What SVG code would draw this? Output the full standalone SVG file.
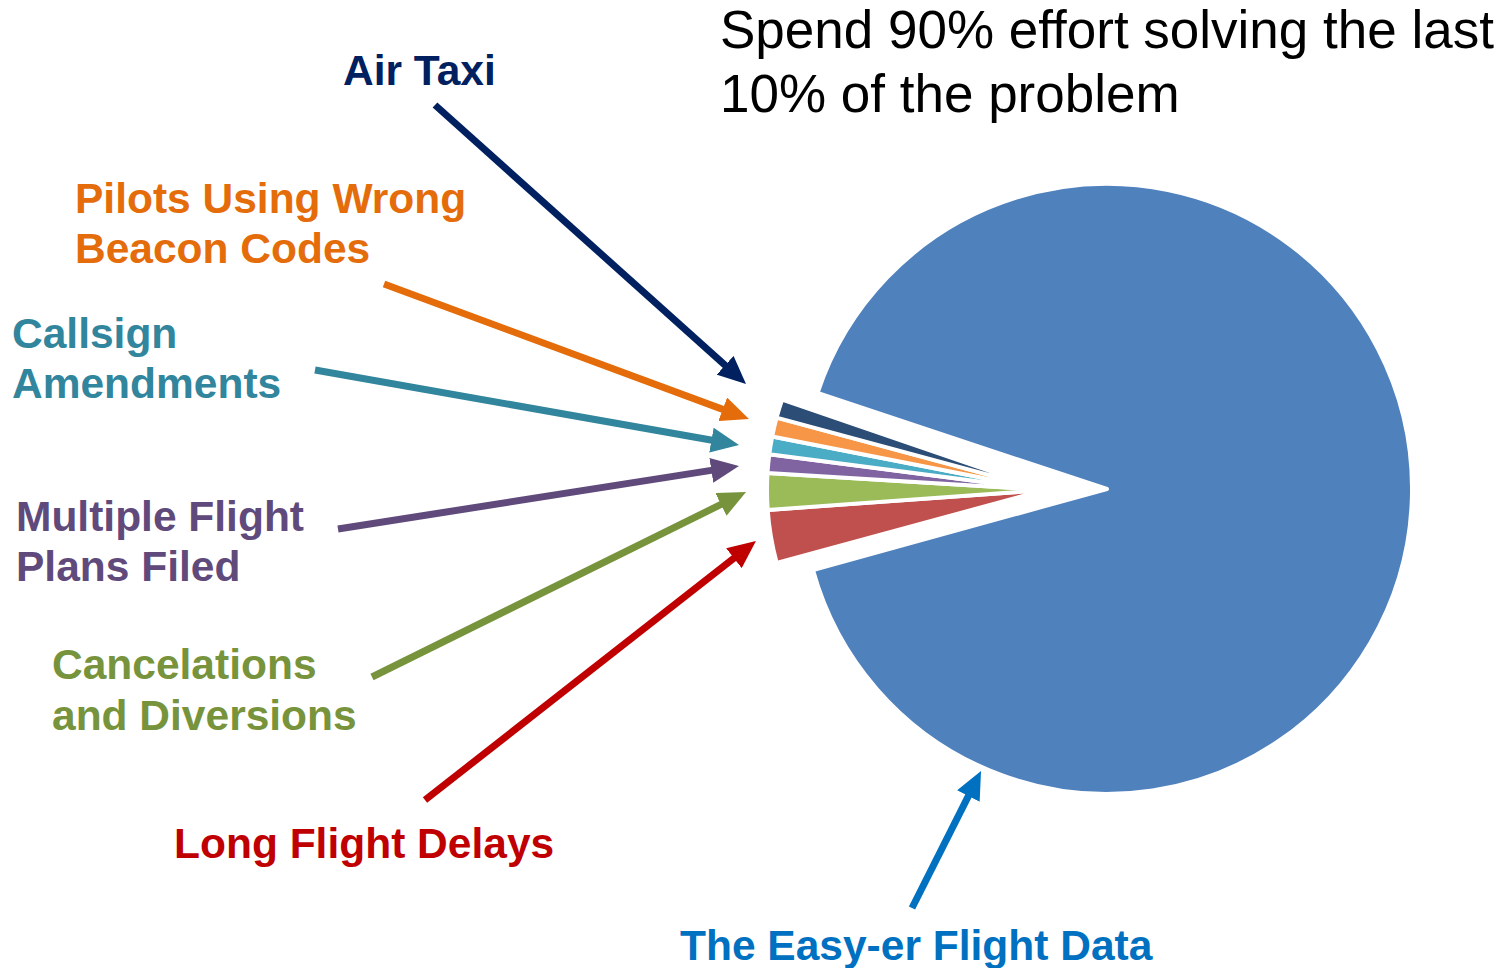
<svg xmlns="http://www.w3.org/2000/svg" width="1508" height="968" viewBox="0 0 1508 968">
  <style>
    .lbl { font-family: "Liberation Sans", Arial, sans-serif; font-weight: bold; font-size: 42.5px; }
    .title { font-family: "Liberation Sans", Arial, sans-serif; font-size: 53px; fill: #000000; }
    .slice { stroke: #ffffff; stroke-width: 4; stroke-linejoin: round; }
    .conn { fill: none; stroke-width: 7; }
  </style>
  <defs>
    <marker id="m-navy" markerWidth="4" markerHeight="3.6" refX="1.14" refY="1.8" orient="auto"><path d="M0,0 L4,1.8 L0,3.6 z" fill="#002060"/></marker>
    <marker id="m-orange" markerWidth="4" markerHeight="3.6" refX="1.14" refY="1.8" orient="auto"><path d="M0,0 L4,1.8 L0,3.6 z" fill="#E46C0A"/></marker>
    <marker id="m-teal" markerWidth="4" markerHeight="3.6" refX="1.14" refY="1.8" orient="auto"><path d="M0,0 L4,1.8 L0,3.6 z" fill="#31859C"/></marker>
    <marker id="m-purple" markerWidth="4" markerHeight="3.6" refX="1.14" refY="1.8" orient="auto"><path d="M0,0 L4,1.8 L0,3.6 z" fill="#604A7B"/></marker>
    <marker id="m-green" markerWidth="4" markerHeight="3.6" refX="1.14" refY="1.8" orient="auto"><path d="M0,0 L4,1.8 L0,3.6 z" fill="#77933C"/></marker>
    <marker id="m-red" markerWidth="4" markerHeight="3.6" refX="1.14" refY="1.8" orient="auto"><path d="M0,0 L4,1.8 L0,3.6 z" fill="#C00000"/></marker>
    <marker id="m-blue" markerWidth="4" markerHeight="3.6" refX="1.14" refY="1.8" orient="auto"><path d="M0,0 L4,1.8 L0,3.6 z" fill="#0070C0"/></marker>
  </defs>
  <rect width="1508" height="968" fill="#ffffff"/>

  <g id="pie">
    <path id="slice-easy" class="slice" fill="#4F81BD" stroke-width="3" d="M1107,489 L817.5,393 A305,305 0 1,1 813,570 Z"/>
    <path id="slice-delays" class="slice" fill="#C0504D" d="M1045,490 L767.7,509.9 A278,278 0 0,0 776.7,562.9 Z"/>
    <path id="slice-cancel" class="slice" fill="#9BBB59" d="M1045,490 L767.5,473 A278,278 0 0,0 767.7,509.9 Z"/>
    <path id="slice-multiple" class="slice" fill="#8064A2" d="M1045,490 L769.3,454.2 A278,278 0 0,0 767.5,473 Z"/>
    <path id="slice-callsign" class="slice" fill="#4BACC6" d="M1045,490 L772.2,436.5 A278,278 0 0,0 769.3,454.2 Z"/>
    <path id="slice-beacon" class="slice" fill="#F79646" d="M1045,490 L776.6,417.6 A278,278 0 0,0 772.2,436.5 Z"/>
    <path id="slice-airtaxi" class="slice" fill="#2C4D75" d="M1045,490 L782.1,399.5 A278,278 0 0,0 776.6,417.6 Z"/>
  </g>

  <g id="title">
    <text class="title" x="720" y="48">Spend 90% effort solving the last</text>
    <text class="title" x="720" y="112">10% of the problem</text>
  </g>

  <g id="label-airtaxi"><text class="lbl" x="343" y="85" fill="#002060">Air Taxi</text></g>
  <g id="label-beacon">
    <text class="lbl" x="75" y="213" fill="#E46C0A">Pilots Using Wrong</text>
    <text class="lbl" x="75" y="263" fill="#E46C0A">Beacon Codes</text>
  </g>
  <g id="label-callsign">
    <text class="lbl" x="12" y="348" fill="#31859C">Callsign</text>
    <text class="lbl" x="12" y="398" fill="#31859C">Amendments</text>
  </g>
  <g id="label-multiple">
    <text class="lbl" x="16" y="531" fill="#604A7B">Multiple Flight</text>
    <text class="lbl" x="16" y="581" fill="#604A7B">Plans Filed</text>
  </g>
  <g id="label-cancel">
    <text class="lbl" x="52" y="679" fill="#77933C">Cancelations</text>
    <text class="lbl" x="52" y="730" fill="#77933C">and Diversions</text>
  </g>
  <g id="label-delays"><text class="lbl" x="174" y="858" fill="#C00000">Long Flight Delays</text></g>
  <g id="label-easy"><text class="lbl" x="680" y="960" fill="#0070C0">The Easy-er Flight Data</text></g>

  <g id="connectors">
    <line class="conn" stroke="#002060" x1="435" y1="105" x2="731.1" y2="370.6" marker-end="url(#m-navy)"/>
    <line class="conn" stroke="#E46C0A" x1="384" y1="284" x2="730.2" y2="412.1" marker-end="url(#m-orange)"/>
    <line class="conn" stroke="#31859C" x1="315" y1="370" x2="719.3" y2="441.5" marker-end="url(#m-teal)"/>
    <line class="conn" stroke="#604A7B" x1="338" y1="529" x2="719.2" y2="469.1" marker-end="url(#m-purple)"/>
    <line class="conn" stroke="#77933C" x1="372" y1="677" x2="728.1" y2="500.9" marker-end="url(#m-green)"/>
    <line class="conn" stroke="#C00000" x1="425" y1="800" x2="740.2" y2="553.3" marker-end="url(#m-red)"/>
    <line class="conn" stroke="#0070C0" x1="912" y1="908" x2="972" y2="788.9" marker-end="url(#m-blue)"/>
  </g>
</svg>
